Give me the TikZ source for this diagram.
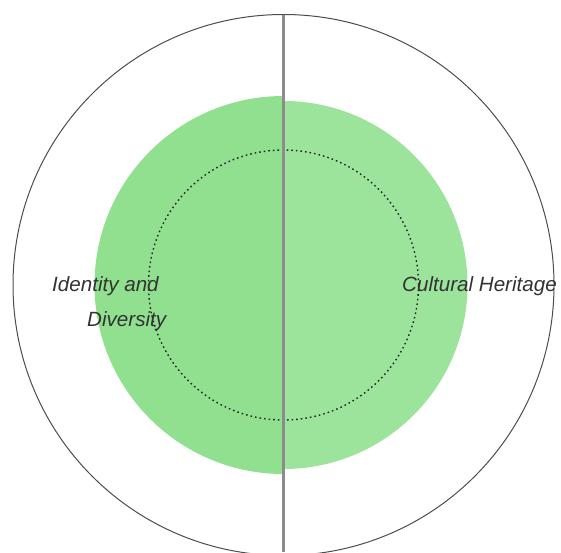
\documentclass[tikz,border=0pt]{standalone}
\usepackage{fontspec}
\setmainfont{Liberation Sans}
\usetikzlibrary{calc}

\definecolor{leftgreen}{HTML}{90E090}
\definecolor{rightgreen}{HTML}{9CE49C}
\definecolor{labelgray}{HTML}{333333}

\tikzset{
  lbl/.style={anchor=base west,inner sep=0pt,text=labelgray,
    font=\fontsize{20.6}{24}\selectfont\itshape}
}

\begin{document}
\begin{tikzpicture}[x=1pt,y=-1pt]
    \useasboundingbox (0,0) rectangle (561,552);
    \coordinate (O) at (283.5,285);
    \coordinate (T) at (283.5,15);
    \coordinate (B) at (283.5,552);
      % green halves
      \fill[leftgreen] ($(O)+(0,-189)$) arc[start angle=-90,end angle=-270,radius=189] -- cycle;
      \fill[rightgreen] ($(O)+(0,-184)$) arc[start angle=270,end angle=450,radius=184] -- cycle;
      % inner ring
      \draw[black!85,line width=1.4pt,dash pattern=on 1.6pt off 3pt] (O) circle[radius=135];
      % outer ring and axis
      \draw[black!70,line width=1pt] (O) circle[radius=270.5];
      \draw[black!45,line width=2.2pt] (T) -- (B);
      \node[lbl] (id) at (52,291) {Identity and};
      \node[lbl] (div) at (87,326) {Diversity};
      \node[lbl] (ch) at (402,291) {Cultural Heritage};
  \end{tikzpicture}
\end{document}
